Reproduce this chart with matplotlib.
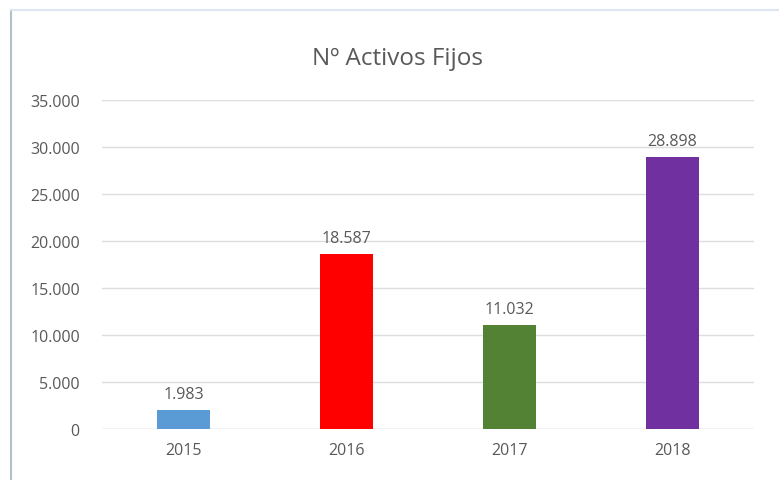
import matplotlib.pyplot as plt
from matplotlib.lines import Line2D

years = ["2015", "2016", "2017", "2018"]
activos = [1983, 18587, 11032, 28898]
colores = ["#5B9BD5", "#FF0000", "#548235", "#7030A0"]

plt.rcParams['font.family'] = ['Open Sans', 'DejaVu Sans']

def miles(v):
    return f"{int(v):,}".replace(",", ".")

fig = plt.figure(figsize=(7.79, 4.81), dpi=100)
ax = fig.add_axes([0.131, 0.106, 0.837, 0.684])

x = range(len(years))
ax.bar(x, activos, width=0.32, color=colores, zorder=3)
for i, v in enumerate(activos):
    ax.text(i, v + 900, miles(v), ha="center", va="bottom", fontsize=11.5, color="#595959")

ax.set_xlim(-0.5, 3.5)
ax.set_ylim(0, 35000)
ax.set_yticks(range(0, 35001, 5000))
ax.set_yticklabels([miles(t) for t in range(0, 35001, 5000)])
ax.set_xticks(list(x))
ax.set_xticklabels(years)
ax.tick_params(length=0, labelsize=11.5, colors="#595959", pad=9)
ax.tick_params(axis="y", pad=16)
ax.grid(axis="y", color="#DDDDDD", linewidth=1, zorder=0)
for s in ax.spines.values():
    s.set_visible(False)
ax.axhline(0, color="#DDDDDD", linewidth=1, zorder=2)

fig.text(0.51, 0.878, "Nº Activos Fijos", ha="center", va="center", fontsize=17.5, color="#595959")

# borde del gráfico
fig.add_artist(Line2D([0.014, 0.014], [0.0, 0.977], color="#B4C0C8", linewidth=1.5))
fig.add_artist(Line2D([0.014, 1.0], [0.977, 0.977], color="#DCE6F2", linewidth=1.5))

fig.savefig("out.png", dpi=100)
